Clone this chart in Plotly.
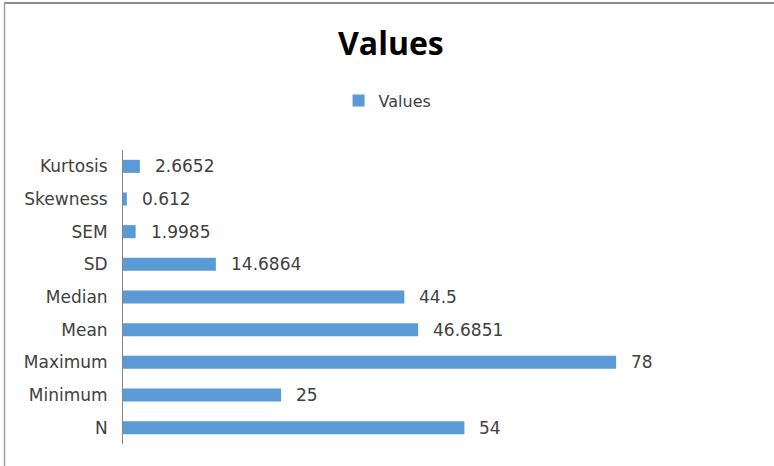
import plotly.graph_objects as go

# Descriptive statistics, listed bottom to top
categories = ["N", "Minimum", "Maximum", "Mean", "Median", "SD", "SEM", "Skewness", "Kurtosis"]
values = [54, 25, 78, 46.6851, 44.5, 14.6864, 1.9985, 0.612, 2.6652]
value_labels = ["54", "25", "78", "46.6851", "44.5", "14.6864", "1.9985", "0.612", "2.6652"]

BAR_COLOR = "#5B9BD5"
TEXT_COLOR = "#404040"
FONT = "DejaVu Sans"

fig = go.Figure()
fig.add_trace(go.Bar(
    x=values,
    y=categories,
    orientation="h",
    name="Values",
    marker=dict(color=BAR_COLOR, line=dict(width=0)),
    width=0.4,
    showlegend=True,
))

# Value labels placed just right of each bar end
for cat, val, lab in zip(categories, values, value_labels):
    fig.add_annotation(
        x=val, y=cat, text=lab, xref="x", yref="y",
        xanchor="left", yanchor="middle", xshift=13, showarrow=False,
        font=dict(family=FONT, size=17, color=TEXT_COLOR),
    )

fig.update_layout(
    width=774, height=466,
    margin=dict(l=123, r=82, t=150, b=22),
    paper_bgcolor="white", plot_bgcolor="white",
    font=dict(family=FONT, color=TEXT_COLOR, size=17),
    title=dict(text="<b>Values</b>", x=0.505, xanchor="center", y=0.905, yanchor="middle",
               font=dict(family="Open Sans", size=32, color="#000000")),
    legend=dict(orientation="h", x=0.465, xanchor="center", y=1.168, yanchor="middle",
                font=dict(family=FONT, size=16, color=TEXT_COLOR), itemwidth=30,
                bgcolor="rgba(0,0,0,0)"),
    xaxis=dict(range=[0, 90], visible=False, fixedrange=True),
    yaxis=dict(showline=True, linecolor="#868686", linewidth=1, ticks="",
               ticklabelstandoff=11, showgrid=False, zeroline=False,
               tickfont=dict(family=FONT, size=17, color=TEXT_COLOR)),
    bargap=0.6,
)

# Frame lines of the chart area (top and left edges)
fig.add_shape(type="line", xref="paper", yref="paper",
              x0=-119/569, x1=651/569, y0=(466-22-3)/294, y1=(466-22-3)/294,
              line=dict(color="#8c8c8c", width=2))
fig.add_shape(type="line", xref="paper", yref="paper",
              x0=-118.5/569, x1=-118.5/569, y0=-22/294, y1=(466-22-3)/294,
              line=dict(color="#a0a0a0", width=1.5))

fig.write_html("out.html")
